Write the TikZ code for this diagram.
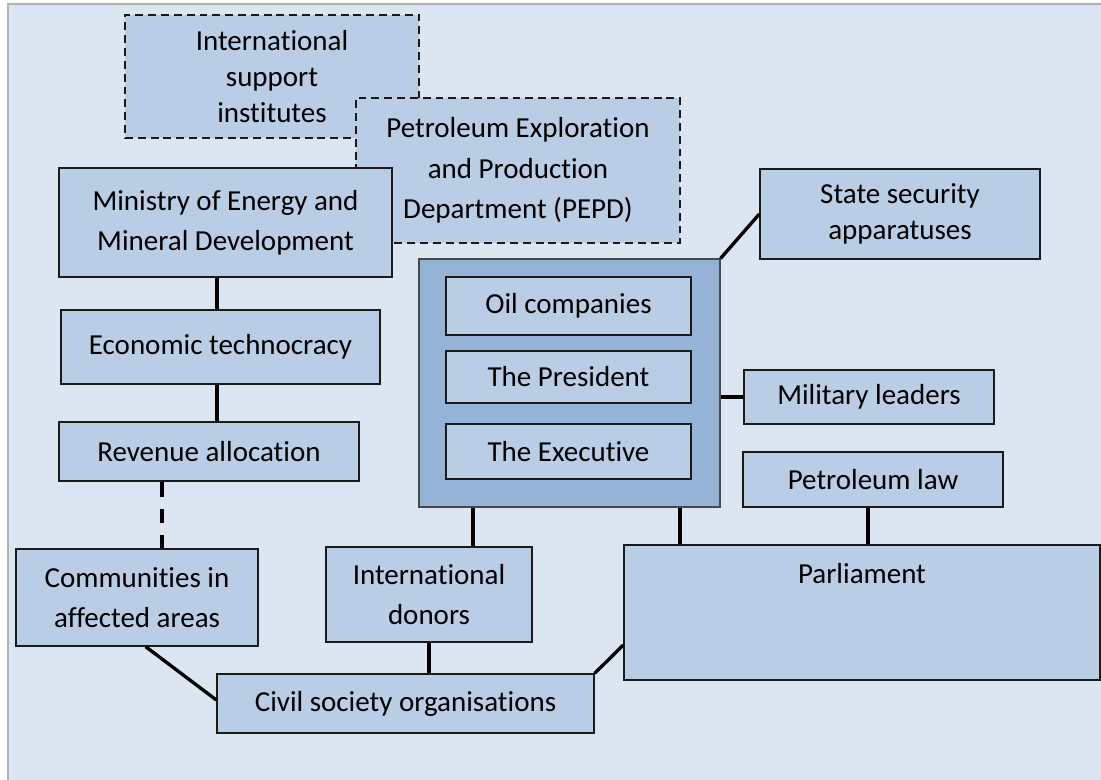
\documentclass[tikz,border=0pt]{standalone}
\usepackage{fontspec}
\setmainfont[Ligatures=NoCommon]{Carlito}
\usepackage{xcolor}
\usepackage{tikz}
\usetikzlibrary{positioning,calc}
\definecolor{panel}{HTML}{DCE6F2}
\definecolor{boxfill}{HTML}{B9CDE5}
\definecolor{groupfill}{HTML}{95B3D7}
\definecolor{edge}{HTML}{1A1A1A}

\begin{document}
\begin{tikzpicture}[
    actor/.style={rectangle, draw=edge, line width=0.75pt, fill=boxfill,
        font=\fontsize{16.5}{23}\selectfont, align=center, inner sep=2pt},
    tight/.style={font=\fontsize{16.5}{20.5}\selectfont},
    support/.style={actor, dash pattern=on 4.5pt off 2.8pt},
    group/.style={rectangle, draw=edge!80, line width=0.6pt, fill=groupfill},
    link/.style={draw=black, line width=2.4pt},
    weak/.style={link, dash pattern=on 8.5pt off 6.8pt}
]

% page and panel
\useasboundingbox (0,0) rectangle (22.02,-15.6);
\fill[white] (0,0) rectangle (22.02,-15.6);
\fill[panel] (0.16,-0.08) rectangle (22.02,-15.6);
\draw[gray!60, line width=0.6pt] (0.16,-15.7) -- (0.16,-0.08) -- (22.1,-0.08);

% advisers, drawn first so the ministry sits on top
\node[support, tight, minimum width=5.88cm, minimum height=2.46cm] (intl) at (5.44,-1.53) {International\\support\\institutes};
\node[support, minimum width=6.48cm, minimum height=2.90cm] (pepd) at (10.36,-3.41) {Petroleum Exploration\\and Production\\Department (PEPD)};
\node[actor, minimum width=6.66cm, minimum height=2.18cm] (ministry) at (4.51,-4.45) {Ministry of Energy and\\Mineral Development};

% left column
\node[actor, minimum width=6.38cm, minimum height=1.48cm] (techno) at (4.41,-6.94) {\raisebox{0.1cm}{Economic technocracy}};
\node[actor, minimum width=6.00cm, minimum height=1.18cm] (revenue) at (4.18,-9.03) {Revenue allocation};
\node[actor, minimum width=4.84cm, minimum height=1.94cm] (communities) at (2.74,-11.95) {Communities in\\affected areas};

% core group
\node[group, minimum width=6.02cm, minimum height=4.96cm] (core) at (11.39,-7.66) {};
\node[actor, minimum width=4.90cm, minimum height=1.16cm] (oil) at (11.37,-6.12) {Oil companies};
\node[actor, minimum width=4.90cm, minimum height=1.04cm] (president) at (11.37,-7.54) {The President};
\node[actor, minimum width=4.90cm, minimum height=1.10cm] (executive) at (11.37,-9.03) {The Executive};

% right column
\node[actor, tight, minimum width=5.60cm, minimum height=1.80cm] (security) at (18.00,-4.28) {State security\\apparatuses};
\node[actor, minimum width=5.00cm, minimum height=1.08cm] (military) at (17.38,-7.94) {Military leaders};
\node[actor, minimum width=5.20cm, minimum height=1.10cm] (law) at (17.46,-9.59) {Petroleum law};
\node[actor, minimum width=9.52cm, minimum height=2.70cm,
    label={[font=\fontsize{16.5}{23}\selectfont, inner sep=0pt, anchor=north, yshift=-0.38cm]north:Parliament}] (parliament) at (17.24,-12.25) {};

% bottom row
\node[actor, minimum width=4.12cm, minimum height=1.90cm] (donors) at (8.58,-11.89) {International\\donors};
\node[actor, minimum width=7.54cm, minimum height=1.18cm] (civil) at (8.11,-14.07) {Civil society organisations};

% links
\draw[link] ([xshift=-0.07cm]techno.north) -- ([xshift=-0.07cm]techno.north |- ministry.south);
\draw[link] ([xshift=-0.07cm]techno.south) -- ([xshift=-0.07cm]techno.south |- revenue.north);
\draw[weak] ([xshift=-0.94cm]revenue.south) -- ([xshift=-0.94cm]revenue.south |- communities.north);
\draw[link, line width=1.9pt] (communities.-80) -- ([yshift=0.07cm]civil.west);
\draw[link] (donors.south) -- (donors.south |- civil.north);
\draw[link, line width=1.9pt] (civil.north east) -- ([yshift=-0.65cm]parliament.west);
\draw[link] ([xshift=0.88cm]donors.north) -- ([xshift=0.88cm]donors.north |- core.south);
\draw[link] ([xshift=1.14cm]parliament.north west) -- ([xshift=1.14cm]parliament.north west |- core.south);
\draw[link, line width=1.9pt] (core.north east) -- (security.west);
\draw[link] (military.west) -- (military.west -| core.east);
\draw[link] ([xshift=-0.1cm]law.south) -- ([xshift=-0.1cm]law.south |- parliament.north);

\end{tikzpicture}
\end{document}
